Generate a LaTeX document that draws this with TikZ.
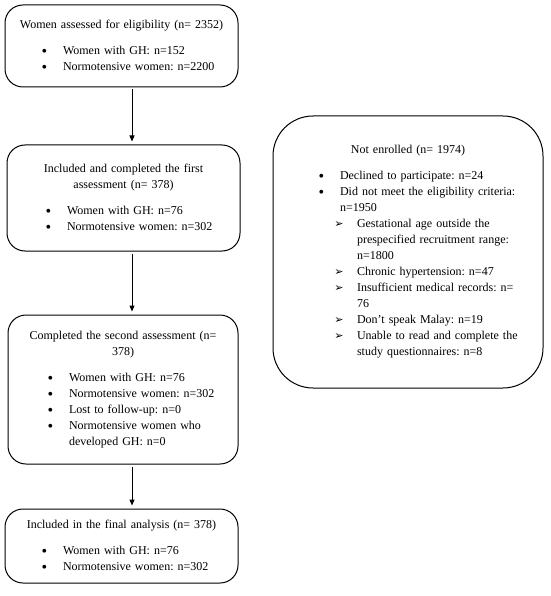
\documentclass[tikz,border=0pt]{standalone}
\usepackage{fontspec}
\setmainfont{Liberation Serif}
\newfontfamily\symf{DejaVu Sans}
\usetikzlibrary{arrows.meta}
\setlength{\parindent}{0pt}
\frenchspacing
\newcommand{\ttl}[1]{{\centering #1\par}\vspace{10pt}}
\newcommand{\itm}[2][50pt]{\par\leftskip=#1\relax\noindent\llap{\makebox[5pt]{\raisebox{-1.8pt}{\fontsize{16}{16}\selectfont\textbullet}}\hspace{16pt}}#2\par}
\newcommand{\sitm}[1]{\par\leftskip=76pt\relax\noindent\llap{\makebox[8pt]{\symf\fontsize{11}{11}\selectfont ➢}\hspace{14pt}}#1\par}
\tikzset{
	box/.style={draw, line width=1pt, rounded corners=18pt, inner xsep=8pt, font=\fontsize{12}{16}\selectfont},
	arr/.style={-{Triangle[length=6pt,width=5pt]}, line width=1pt, shorten <=2pt, shorten >=3pt}
}

\begin{document}
\begin{tikzpicture}[x=1pt,y=-1pt]
		\useasboundingbox (0,0) rectangle (550,596);
		
		%left column
		\node[box, minimum width=233pt, minimum height=82pt, text width=217pt] (assessed) at (121.5,46){
			\ttl{Women assessed for eligibility (n= 2352)}
			\itm{Women with GH: n=152}
			\itm{Normotensive women: n=2200}};
		\node[box, minimum width=233pt, minimum height=106pt, text width=217pt] (first) at (123.5,198){
			\ttl{Included and completed the first\\assessment (n= 378)}
			\itm[52pt]{Women with GH: n=76}
			\itm[52pt]{Normotensive women: n=302}};
		\node[box, minimum width=230pt, minimum height=149pt, text width=214pt] (second) at (123,389.5){
			\ttl{Completed the second assessment (n=\\378)}
			\itm[53pt]{Women with GH: n=76}
			\itm[53pt]{Normotensive women: n=302}
			\itm[53pt]{Lost to follow-up: n=0}
			\itm[53pt]{Normotensive women who\\developed GH: n=0}};
		\node[box, minimum width=233pt, minimum height=74pt, text width=217pt] (final) at (121.5,546){
			\ttl{Included in the final analysis (n= 378)}
			\itm{Women with GH: n=76}
			\itm{Normotensive women: n=302}};
		
		%right column
		\node[box, rounded corners=40pt, minimum width=270pt, minimum height=272pt, text width=254pt] (notenrolled) at (408,252){
			\ttl{Not enrolled (n= 1974)}
			\itm[59pt]{Declined to participate: n=24}
			\itm[59pt]{Did not meet the eligibility criteria:\\n=1950}
			\sitm{Gestational age outside the\\prespecified recruitment range:\\n=1800}
			\sitm{Chronic hypertension: n=47}
			\sitm{Insufficient medical records: n=\\76}
			\sitm{Don’t speak Malay: n=19}
			\sitm{Unable to read and complete the\\study questionnaires: n=8}};
		
		%arrows
		\coordinate (ax) at (132,0);
		\draw[arr] (assessed.south -| ax) -- (first.north -| ax);
		\draw[arr] (first.south -| ax) -- (second.north -| ax);
		\draw[arr] (second.south -| ax) -- (final.north -| ax);
\end{tikzpicture}
\end{document}
